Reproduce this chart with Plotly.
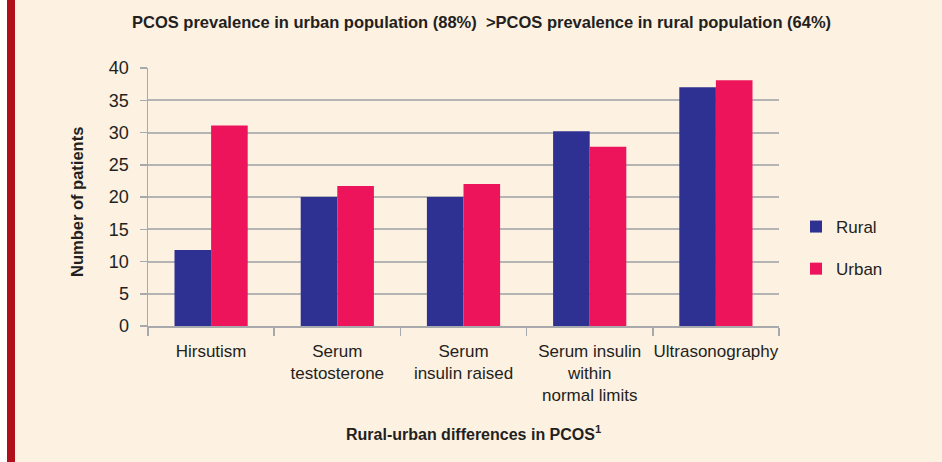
import plotly.graph_objects as go

categories = ["Hirsutism", "Serum<br>testosterone", "Serum<br>insulin raised",
              "Serum insulin<br>within<br>normal limits", "Ultrasonography"]
rural = [11.8, 20.0, 20.0, 30.2, 37.0]
urban = [31.1, 21.7, 22.0, 27.8, 38.1]
y_ticks = [0, 5, 10, 15, 20, 25, 30, 35, 40]

W, H = 942, 462
L, R, T, B = 148, 163, 68, 136
pw = W - L - R
ph = H - T - B

def px2paper(px):
    return (px - L) / pw

def py2paper(py):
    return (H - B - py) / ph

FONT = "Liberation Sans, Arial, sans-serif"
TXT = "#231F20"
CREAM = "#FDF1E2"
GRID = "#B4B4B4"

fig = go.Figure()
fig.add_bar(name="Rural", x=categories, y=rural, marker_color="#2E3192",
            marker_line_width=0, legendgroup="r")
fig.add_bar(name="Urban", x=categories, y=urban, marker_color="#EE145B",
            marker_line_width=0, legendgroup="u")

fig.update_layout(
    width=W, height=H,
    margin=dict(l=L, r=R, t=T, b=B, pad=0, autoexpand=False),
    paper_bgcolor=CREAM, plot_bgcolor=CREAM,
    font=dict(family=FONT, size=17, color=TXT),
    barmode="group", bargap=0.42, bargroupgap=0,
    showlegend=True,
    legend=dict(xref="container", yref="container",
                x=796 / W, xanchor="left", y=1 - 209 / H, yanchor="top",
                bgcolor="rgba(0,0,0,0)", font=dict(size=17, family=FONT, color=TXT),
                traceorder="grouped", tracegroupgap=17, itemclick=False),
    xaxis=dict(
        showline=True, linecolor="#A7A9AC", linewidth=1.5,
        ticks="outside", ticklen=8, tickcolor="#A7A9AC", tickwidth=1.5,
        tickson="boundaries", showgrid=False, tickangle=0, automargin=False,
        ticklabelstandoff=9,
        tickfont=dict(size=17, family=FONT, color=TXT),
        range=[-0.5, 4.5],
    ),
    yaxis=dict(
        range=[0, 40], tickvals=y_ticks, ticktext=[str(v) for v in y_ticks],
        showline=True, linecolor="#A7A9AC", linewidth=1.5,
        ticks="outside", ticklen=7, tickcolor="#A7A9AC", tickwidth=1.5,
        showgrid=True, gridcolor=GRID, gridwidth=2, automargin=False,
        zeroline=False, ticklabelstandoff=7,
        tickfont=dict(size=18, family=FONT, color=TXT),
    ),
    shapes=[
        dict(type="rect", xref="paper", yref="paper", x0=px2paper(0), x1=px2paper(7),
             y0=py2paper(H), y1=py2paper(0), fillcolor="white", line_width=0, layer="below"),
        dict(type="rect", xref="paper", yref="paper", x0=px2paper(7), x1=px2paper(15),
             y0=py2paper(H), y1=py2paper(0), fillcolor="#B10F1A", line_width=0, layer="below"),
    ],
    annotations=[
        dict(text="<b>PCOS prevalence in urban population (88%)  &gt;PCOS prevalence in rural population (64%)</b>",
             xref="paper", yref="paper", x=px2paper(481), y=py2paper(22),
             xanchor="center", yanchor="middle", showarrow=False,
             font=dict(size=16.5, family=FONT, color=TXT)),
        dict(text="<b>Number of patients</b>", textangle=-90,
             xref="paper", yref="paper", x=px2paper(77), y=py2paper(202),
             xanchor="center", yanchor="middle", showarrow=False,
             font=dict(size=16.5, family=FONT, color=TXT)),
        dict(text="<b>Rural-urban differences in PCOS<sup>1</sup></b>",
             xref="paper", yref="paper", x=px2paper(473), y=py2paper(433),
             xanchor="center", yanchor="middle", showarrow=False,
             font=dict(size=16, family=FONT, color=TXT)),
    ],
)

fig.write_html("out.html", config={"displayModeBar": False, "staticPlot": True},
               post_script="document.body.style.margin='0';document.body.style.overflow='hidden';")
